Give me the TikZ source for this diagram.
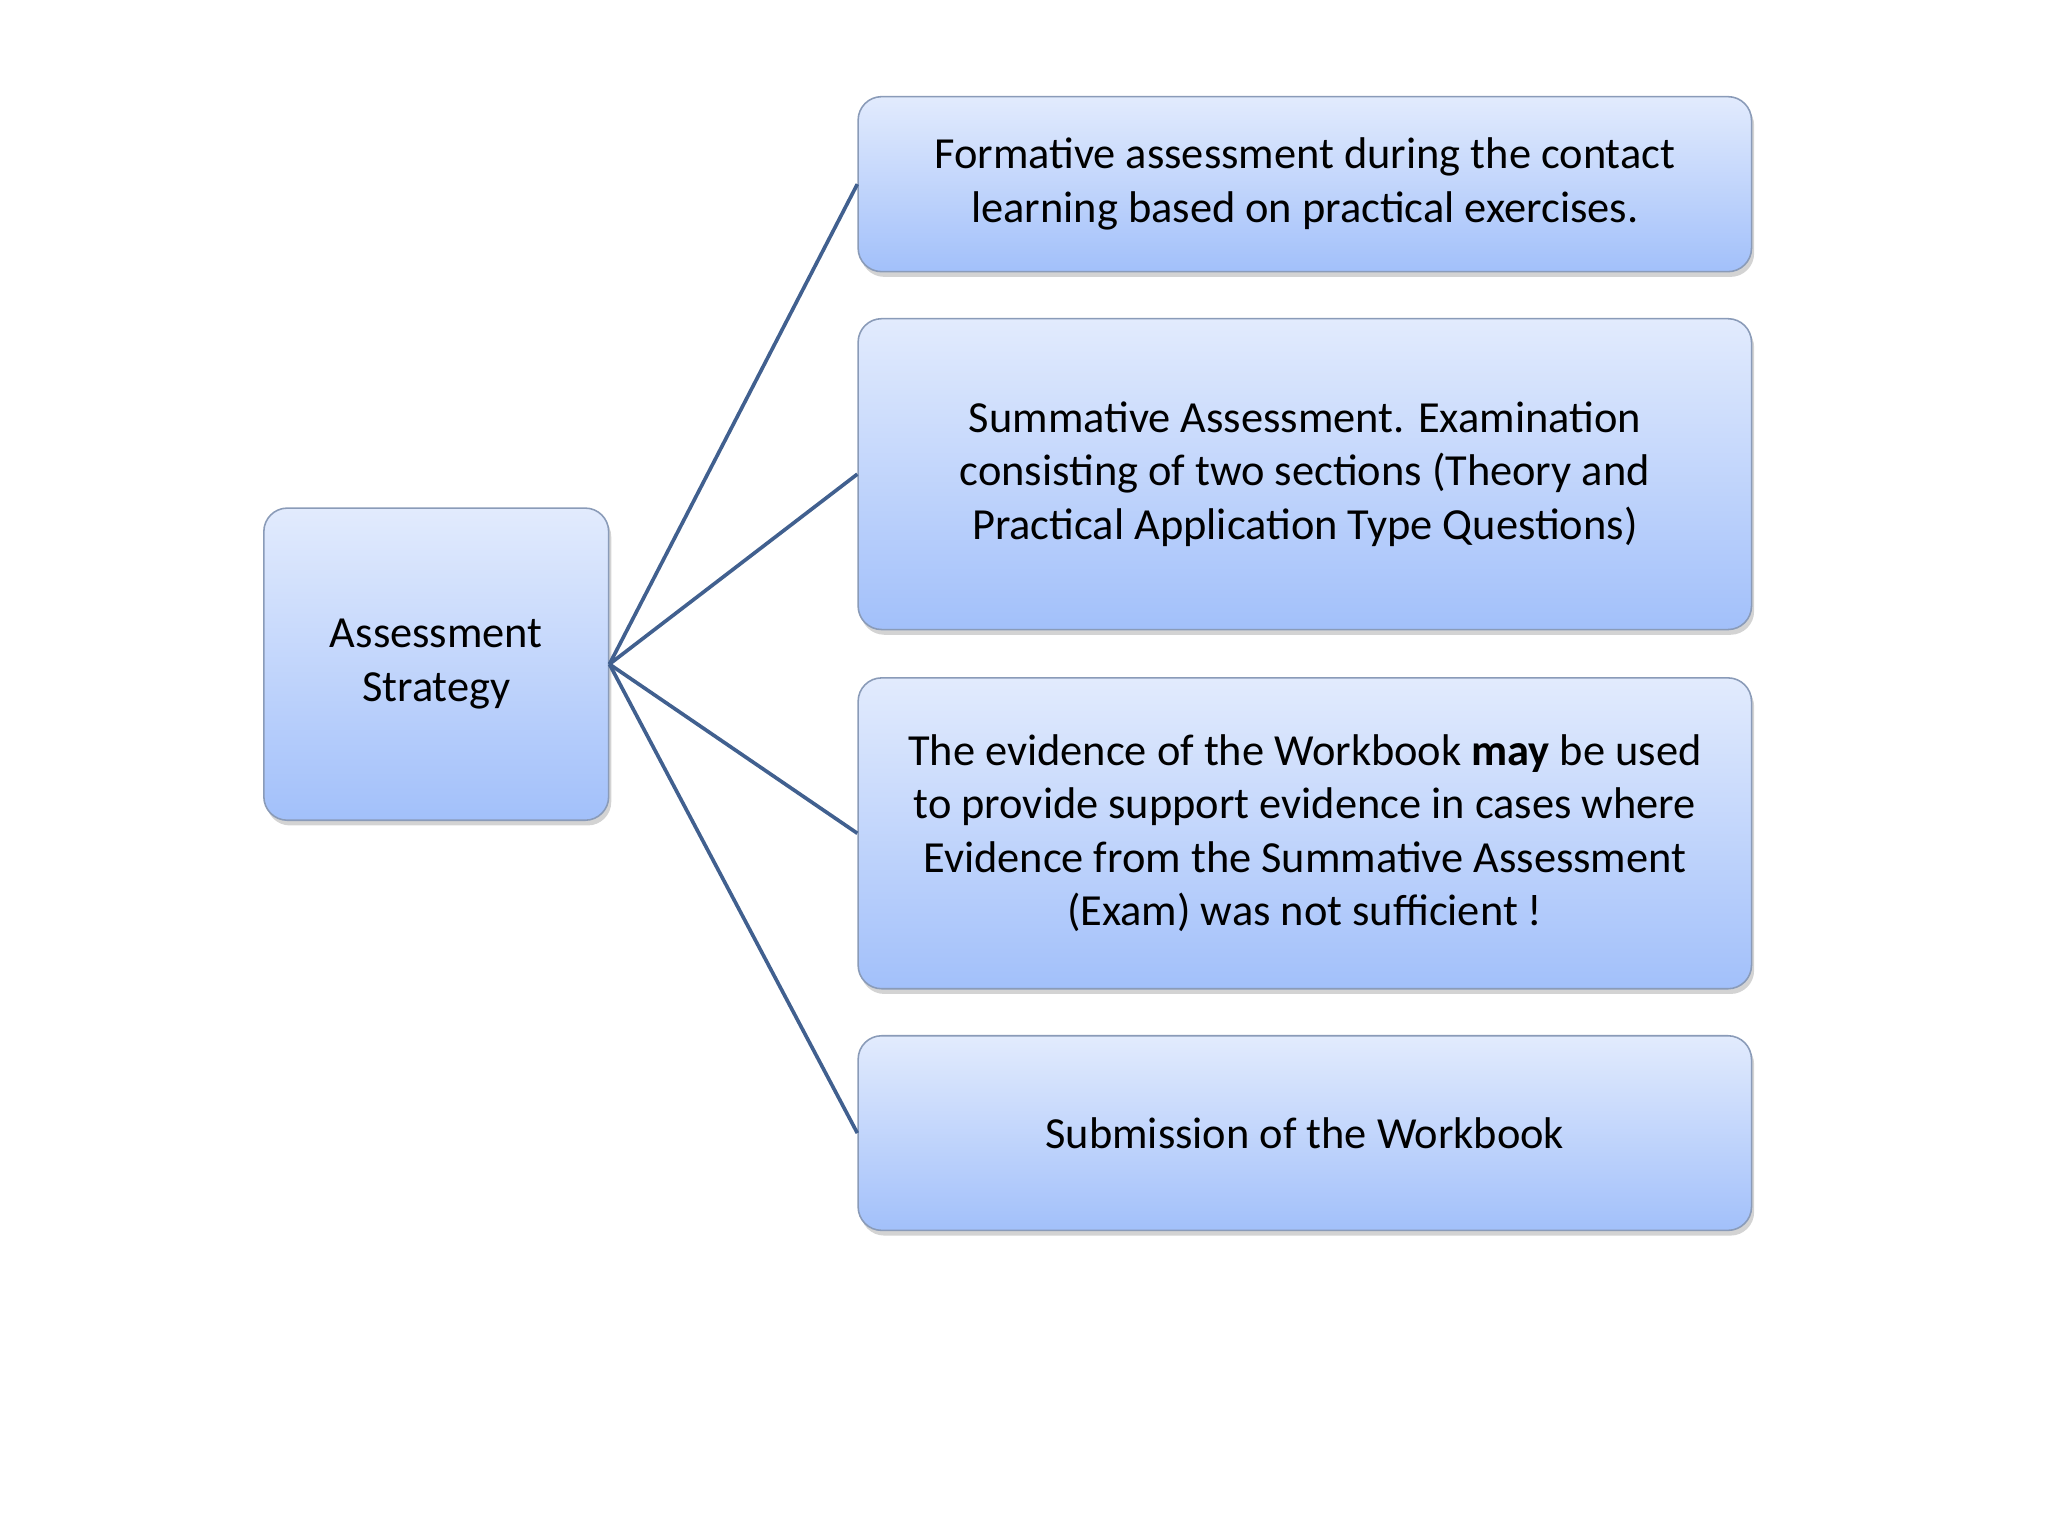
\documentclass[tikz,border=0pt]{standalone}
\usepackage{fontspec}
\setmainfont{Carlito}
\usetikzlibrary{shadows}
\definecolor{topc}{HTML}{E2EBFD}
\definecolor{botc}{HTML}{A2C0FA}
\definecolor{edgec}{HTML}{8A9BB8}
\definecolor{linec}{HTML}{41608F}
\tikzset{
  box/.style={draw=edgec, line width=0.6pt, rounded corners=9pt, top color=topc, bottom color=botc,
    drop shadow={shadow xshift=1pt, shadow yshift=-2pt, opacity=0.35},
    font=\fontsize{17}{20.5}\selectfont, align=center, inner sep=0pt},
  conn/.style={draw=linec, line width=1.4pt}
}
\begin{document}
\begin{tikzpicture}[x=0.5pt,y=-0.5pt]
\useasboundingbox (0,0) rectangle (1568,1176);
\node[box, minimum width=132pt, minimum height=119.5pt] (a) at (334,508.5) {Assessment\\Strategy};
\node[box, minimum width=342pt, minimum height=67pt] (b1) at (999,141) {Formative assessment during the contact\\learning based on practical exercises.};
\node[box, minimum width=342pt, minimum height=119pt] (b2) at (999,363) {Summative Assessment. Examination\\consisting of two sections (Theory and\\Practical Application Type Questions)};
\node[box, minimum width=342pt, minimum height=119pt] (b3) at (999,638) {The evidence of the Workbook \textbf{may} be used\\to provide support evidence in cases where\\Evidence from the Summative Assessment\\(Exam) was not sufficient !};
\node[box, minimum width=342pt, minimum height=74.5pt] (b4) at (999,867.5) {Submission of the Workbook};
\foreach \b in {b1,b2,b3,b4} \draw[conn] (a.east) -- (\b.west);
\end{tikzpicture}
\end{document}
